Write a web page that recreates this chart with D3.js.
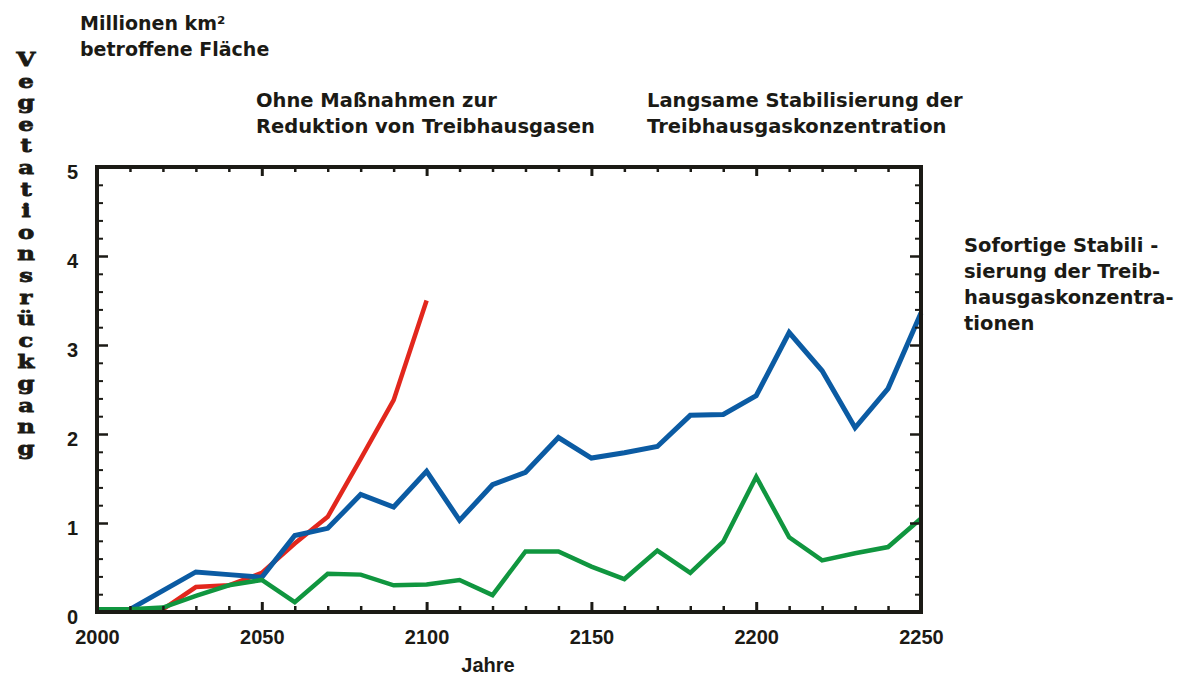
<!DOCTYPE html>
<html>
<head>
<meta charset="utf-8">
<script src="https://cdn.jsdelivr.net/npm/d3@7"></script>
<style>
  body { margin: 0; background: #fff; }
  svg { display: block; }
</style>
</head>
<body>
<div id="chart"></div>
<script>
// data, one point every 10 years
var years = [2000, 2010, 2020, 2030, 2040, 2050, 2060, 2070, 2080, 2090, 2100,
             2110, 2120, 2130, 2140, 2150, 2160, 2170, 2180, 2190, 2200,
             2210, 2220, 2230, 2240, 2250];
var ohneMassnahmen = [0.02, 0.02, 0.03, 0.28, 0.30, 0.44, 0.77, 1.07, 1.72, 2.38, 3.50];
var langsam = [0.02, 0.03, 0.24, 0.45, 0.42, 0.39, 0.86, 0.94, 1.32, 1.18, 1.58,
               1.03, 1.43, 1.57, 1.96, 1.73, 1.79, 1.86, 2.21, 2.22, 2.43,
               3.14, 2.71, 2.07, 2.51, 3.36];
var sofort = [0.03, 0.03, 0.05, 0.18, 0.30, 0.36, 0.11, 0.43, 0.42, 0.30, 0.31,
              0.36, 0.19, 0.68, 0.68, 0.51, 0.37, 0.69, 0.44, 0.79, 1.52,
              0.84, 0.58, 0.66, 0.73, 1.05];

var xMajor = [2000, 2050, 2100, 2150, 2200, 2250];
var xMinor = [2010, 2020, 2030, 2040, 2060, 2070, 2080, 2090, 2110, 2120, 2130, 2140,
              2160, 2170, 2180, 2190, 2210, 2220, 2230, 2240];
var yMajor = [0, 1, 2, 3, 4, 5];
var yMinor = [0.2, 0.4, 0.6, 0.8, 1.2, 1.4, 1.6, 1.8, 2.2, 2.4, 2.6, 2.8,
              3.2, 3.4, 3.6, 3.8, 4.2, 4.4, 4.6, 4.8];

var yTitle = ["Millionen km²", "betroffene Fläche"];
var sideLabel = "Vegetationsrückgang";
var noteOhne = ["Ohne Maßnahmen zur", "Reduktion von Treibhausgasen"];
var noteLangsam = ["Langsame Stabilisierung der", "Treibhausgaskonzentration"];
var noteSofort = ["Sofortige Stabili -", "sierung der Treib-", "hausgaskonzentra-", "tionen"];

var W = 1186, H = 678;
var ink = "#1b1a15";

var svg = d3.select("#chart").append("svg")
    .attr("width", W)
    .attr("height", H);

// scales
var x = d3.scaleLinear().domain([2000, 2250]).range([97, 921]);
var y = d3.scaleLinear().domain([0, 5]).range([612, 167]);

// the lines
var line = d3.line()
    .x(function(d) { return x(d[0]); })
    .y(function(d) { return y(d[1]); });

function pairs(vals) {
  return vals.map(function(v, i) { return [years[i], v]; });
}

var series = [
  {vals: ohneMassnahmen, color: "#e2271d", w: 4.5},
  {vals: langsam, color: "#0b5ba3", w: 5},
  {vals: sofort, color: "#10963f", w: 4.5}
];

svg.append("g").selectAll("path")
    .data(series)
    .enter()
    .append("path")
    .attr("fill", "none")
    .attr("stroke", function(d) { return d.color; })
    .attr("stroke-width", function(d) { return d.w; })
    .attr("stroke-linejoin", "miter")
    .attr("d", function(d) { return line(pairs(d.vals)); });

// axes, ticks point inwards
function styleAxis(g) {
  g.select(".domain").remove();
  g.selectAll(".tick line").attr("stroke", ink);
  g.selectAll(".tick text")
    .attr("fill", ink)
    .style("font-family", "'Liberation Sans', Arial, sans-serif")
    .style("font-weight", "bold")
    .style("font-size", "20px");
}

// bottom
svg.append("g")
    .attr("transform", "translate(0,612)")
    .call(d3.axisBottom(x).tickValues(xMinor).tickSize(-6).tickFormat(""))
    .call(styleAxis)
    .selectAll(".tick line").attr("stroke-width", 2.5);
svg.append("g")
    .attr("transform", "translate(0,612)")
    .call(d3.axisBottom(x).tickValues(xMajor).tickSize(-10).tickPadding(18).tickFormat(d3.format("d")))
    .call(styleAxis)
    .selectAll(".tick line").attr("stroke-width", 3);

// top
svg.append("g")
    .attr("transform", "translate(0,167)")
    .call(d3.axisTop(x).tickValues(xMinor).tickSize(-5).tickFormat(""))
    .call(styleAxis)
    .selectAll(".tick line").attr("stroke-width", 2.5);
svg.append("g")
    .attr("transform", "translate(0,167)")
    .call(d3.axisTop(x).tickValues(xMajor).tickSize(-9).tickFormat(""))
    .call(styleAxis)
    .selectAll(".tick line").attr("stroke-width", 3);

// left
svg.append("g")
    .attr("transform", "translate(97,0)")
    .call(d3.axisLeft(y).tickValues(yMinor).tickSize(-6).tickFormat(""))
    .call(styleAxis)
    .selectAll(".tick line").attr("stroke-width", 2);
var yAx = svg.append("g")
    .attr("transform", "translate(97,0)")
    .call(d3.axisLeft(y).tickValues(yMajor).tickSize(-11).tickPadding(19).tickFormat(d3.format("d")))
    .call(styleAxis);
yAx.selectAll(".tick line").attr("stroke-width", 2.5);
yAx.selectAll(".tick text").attr("dy", "0.55em");

// right
svg.append("g")
    .attr("transform", "translate(921,0)")
    .call(d3.axisRight(y).tickValues(yMinor).tickSize(-6).tickFormat(""))
    .call(styleAxis)
    .selectAll(".tick line").attr("stroke-width", 2);
svg.append("g")
    .attr("transform", "translate(921,0)")
    .call(d3.axisRight(y).tickValues(yMajor).tickSize(-11).tickFormat(""))
    .call(styleAxis)
    .selectAll(".tick line").attr("stroke-width", 2.5);

// frame
svg.append("rect")
    .attr("x", x(2000))
    .attr("y", y(5))
    .attr("width", x(2250) - x(2000))
    .attr("height", y(0) - y(5))
    .attr("fill", "none")
    .attr("stroke", ink)
    .attr("stroke-width", 4);

// x axis title
svg.append("text")
    .attr("x", 488)
    .attr("y", 672)
    .attr("text-anchor", "middle")
    .attr("fill", ink)
    .style("font-family", "'Liberation Sans', Arial, sans-serif")
    .style("font-weight", "bold")
    .style("font-size", "20px")
    .text("Jahre");

// stacked vertical label (one upright letter under the other)
svg.append("g").selectAll("text")
    .data(sideLabel.split(""))
    .enter()
    .append("text")
    .attr("transform", function(d, i) { return "translate(26," + (66 + i * 21.6) + ") scale(1.35,1)"; })
    .attr("text-anchor", "middle")
    .attr("fill", ink)
    .attr("stroke", ink)
    .attr("stroke-width", 0.8)
    .style("font-family", "'DejaVu Serif', serif")
    .style("font-weight", "bold")
    .style("font-size", "18px")
    .text(function(d) { return d; });

// text blocks
function block(lines, x0, y0, step, size) {
  svg.append("g").selectAll("text")
      .data(lines)
      .enter()
      .append("text")
      .attr("x", x0)
      .attr("y", function(d, i) { return y0 + i * step; })
      .attr("fill", ink)
      .style("font-family", "'DejaVu Sans', sans-serif")
      .style("font-weight", "bold")
      .style("font-size", size + "px")
      .text(function(d) { return d; });
}

block(yTitle, 80, 30, 26, 19);
block(noteOhne, 256, 107, 26, 19.5);
block(noteLangsam, 647, 107, 26, 19.5);
block(noteSofort, 964, 252, 26, 19.5);
</script>
</body>
</html>
